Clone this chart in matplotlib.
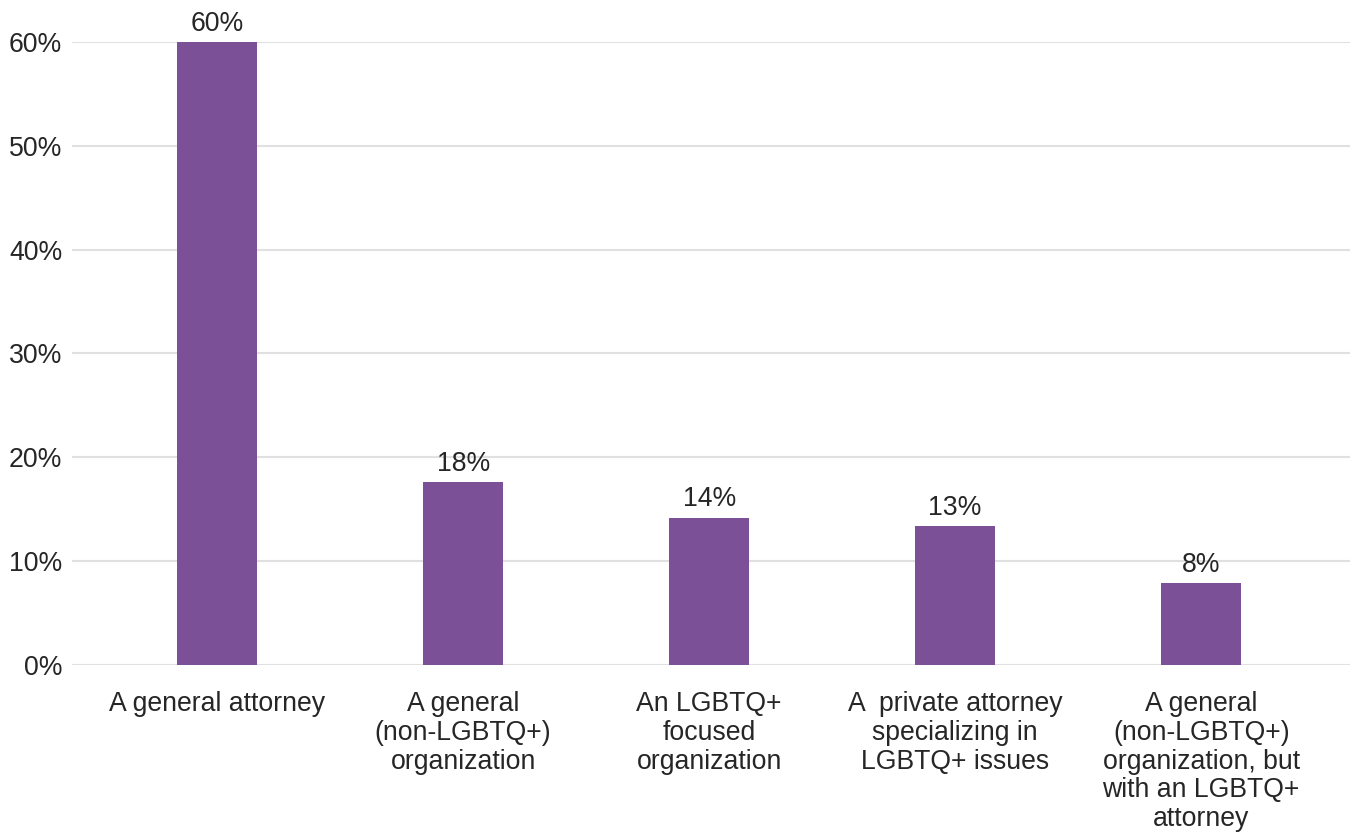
import matplotlib
matplotlib.use("Agg")
import matplotlib.pyplot as plt
from matplotlib.ticker import PercentFormatter

plt.rcParams['font.family'] = ['Liberation Sans', 'DejaVu Sans']

categories = [
    "A general attorney",
    "A general\n(non-LGBTQ+)\norganization",
    "An LGBTQ+\nfocused\norganization",
    "A  private attorney\nspecializing in\nLGBTQ+ issues",
    "A general\n(non-LGBTQ+)\norganization, but\nwith an LGBTQ+\nattorney",
]
values = [60.0, 17.6, 14.2, 13.4, 7.9]
labels = ["60%", "18%", "14%", "13%", "8%"]

bar_color = "#7B5097"
text_color = "#262626"
fs = 19.2

fig = plt.figure(figsize=(13.56, 8.36), dpi=100)
ax = fig.add_axes([0.0531, 0.2046, 0.9425, 0.7452])

x = range(len(categories))
bars = ax.bar(x, values, width=0.325, color=bar_color, zorder=3)
for b, lab in zip(bars, labels):
    ax.text(b.get_x() + b.get_width() / 2, b.get_height() + 0.5, lab,
            ha="center", va="bottom", fontsize=fs, color=text_color, zorder=4)

ax.set_ylim(0, 60)
ax.set_xlim(-0.59, 4.605)
ax.set_yticks(range(0, 61, 10))
ax.yaxis.set_major_formatter(PercentFormatter(decimals=0))
ax.grid(axis="y", color="#e0e0e0", linewidth=1.5, zorder=0)
ax.set_axisbelow(True)
for s in ax.spines.values():
    s.set_visible(False)

ax.set_xticks(list(x))
ax.set_xticklabels(categories, fontsize=fs, color=text_color, linespacing=1.13)
ax.tick_params(axis="x", length=0, pad=19)
ax.tick_params(axis="y", length=0, pad=7, labelsize=fs, labelcolor=text_color)
for t in ax.get_yticklabels():
    t.set_clip_on(False)

fig.savefig("out.png", dpi=100, facecolor="white")
